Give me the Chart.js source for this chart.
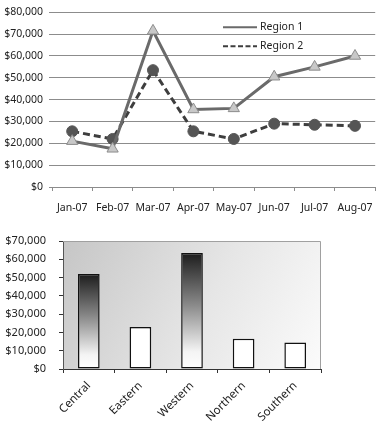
<!DOCTYPE html>
<html><head><meta charset="utf-8">
<script src="https://cdn.jsdelivr.net/npm/chart.js@4.4.0/dist/chart.umd.min.js"></script>
<style>
html,body{margin:0;padding:0;background:#fff;}
#w1{position:absolute;left:0;top:0;width:384px;height:215px;}
#w2{position:absolute;left:0;top:215px;width:384px;height:215px;}
</style></head><body>
<div id="w1"><canvas id="c1"></canvas></div>
<div id="w2"><canvas id="c2"></canvas></div>
<script>
// ---- data ----
const months = ['Jan-07','Feb-07','Mar-07','Apr-07','May-07','Jun-07','Jul-07','Aug-07'];
const region1 = [21000,17500,71500,35500,36000,50500,55000,60000];
const region2 = [25500,22000,53500,25500,22000,29000,28500,28000];
const lineYTicks = [0,10000,20000,30000,40000,50000,60000,70000,80000];

const regions = ['Central','Eastern','Western','Northern','Southern'];
const regionSales = [52000,23000,63500,16500,14500];
const barYTicks = [0,10000,20000,30000,40000,50000,60000,70000];

// ---- styles ----
const FONT = "'Noto Sans', sans-serif";
Chart.defaults.font.family = FONT;
Chart.defaults.color = '#222';
const gradientBarIdx = [0,2];
const money = v => '$' + Number(v).toLocaleString('en-US');

const insideLegend = {
  id:'insideLegend',
  afterDraw(chart){
    const ctx = chart.ctx, ca = chart.chartArea;
    chart.data.datasets.forEach((ds,i)=>{
      const y = ca.top + 15 + i*19;
      const x0 = ca.left + 171;
      ctx.save();
      ctx.strokeStyle = ds.borderColor; ctx.lineWidth = 2;
      ctx.setLineDash(ds.borderDash ? [5,2.5] : []);
      ctx.beginPath(); ctx.moveTo(x0,y); ctx.lineTo(x0+34,y); ctx.stroke();
      ctx.setLineDash([]);
      ctx.fillStyle = '#222'; ctx.font = '10.5px ' + FONT; ctx.textBaseline = 'middle';
      ctx.fillText(ds.label, x0+37, y);
      ctx.restore();
    });
  }
};

new Chart(document.getElementById('c1'), {
  type:'line',
  data:{
    labels: months,
    datasets:[
      {label:'Region 1', data:region1, borderColor:'#6a6a6a', borderWidth:3,
       pointStyle:'triangle', pointRadius:6.5, pointBackgroundColor:'#c8c8c8', pointBorderColor:'#8c8c8c', pointBorderWidth:1, tension:0},
      {label:'Region 2', data:region2, borderColor:'#3e3e3e', borderWidth:3, borderDash:[7,4],
       pointStyle:'circle', pointRadius:5.5, pointBackgroundColor:'#555', pointBorderColor:'#555', pointBorderWidth:1, tension:0}
    ]
  },
  options:{
    responsive:true, maintainAspectRatio:false, animation:false,
    layout:{padding:{top:0,right:1,left:0,bottom:0}},
    plugins:{legend:{display:false}, tooltip:{enabled:false}},
    scales:{
      x:{
        offset:true,
        grid:{offset:true, drawOnChartArea:false, drawTicks:true, tickLength:4, color:'#8c8c8c'},
        border:{display:true, color:'#8c8c8c'},
        ticks:{font:{size:10.5}, padding:11, maxRotation:0, autoSkip:false, color:'#222'},
        afterFit(s){ s.height = 28; }
      },
      y:{
        min:0, max:80000,
        afterBuildTicks(s){ s.ticks = lineYTicks.map(v=>({value:v})); },
        grid:{color:'#8c8c8c', drawTicks:true, tickLength:3, lineWidth:1},
        border:{display:false},
        ticks:{font:{size:10.5}, padding:6, callback:money, color:'#222'},
        afterFit(s){ s.width = 52; }
      }
    }
  },
  plugins:[insideLegend]
});

const plotBg = {
  id:'plotBg',
  beforeDraw(chart){
    const {ctx, chartArea:ca} = chart;
    const g = ctx.createLinearGradient(ca.left, ca.top, ca.right, ca.bottom);
    g.addColorStop(0,'#c6c6c6');
    g.addColorStop(0.55,'#e6e6e6');
    g.addColorStop(1,'#fbfbfb');
    ctx.save(); ctx.fillStyle = g;
    ctx.fillRect(ca.left, ca.top, ca.right-ca.left, ca.bottom-ca.top);
    ctx.restore();
  },
  afterDraw(chart){
    const {ctx, chartArea:ca} = chart;
    ctx.save(); ctx.strokeStyle='#a0a0a0'; ctx.lineWidth=1;
    ctx.beginPath(); ctx.moveTo(ca.left, ca.top+0.5); ctx.lineTo(ca.right-0.5, ca.top+0.5); ctx.lineTo(ca.right-0.5, ca.bottom); ctx.stroke();
    ctx.restore();
  }
};

new Chart(document.getElementById('c2'), {
  type:'bar',
  data:{
    labels: regions,
    datasets:[{
      label:'Sales', data: regionSales,
      borderColor:'#111', borderWidth:1.5, borderSkipped:false,
      barPercentage:0.42, categoryPercentage:1,
      backgroundColor(c){
        const chart = c.chart;
        if (!chart.chartArea || c.type !== 'data' || !gradientBarIdx.includes(c.dataIndex)) return '#ffffff';
        const ys = chart.scales.y;
        const top = ys.getPixelForValue(c.raw), bot = ys.getPixelForValue(0);
        const g = chart.ctx.createLinearGradient(0, top, 0, bot);
        g.addColorStop(0,'#1c1c1c');
        g.addColorStop(0.45,'#8a8a8a');
        g.addColorStop(0.85,'#f4f4f4');
        g.addColorStop(1,'#ffffff');
        return g;
      }
    }]
  },
  options:{
    responsive:true, maintainAspectRatio:false, animation:false,
    layout:{padding:{top:26,right:63,left:0,bottom:0}},
    plugins:{legend:{display:false}, tooltip:{enabled:false}},
    scales:{
      x:{
        grid:{offset:true, drawOnChartArea:false, drawTicks:true, tickLength:4, color:'#333'},
        border:{display:true, color:'#333'},
        ticks:{font:{size:11.5}, padding:6, minRotation:45, maxRotation:45, autoSkip:false, color:'#222'},
        afterFit(s){ s.height = 61; }
      },
      y:{
        min:0, max:70000,
        afterBuildTicks(s){ s.ticks = barYTicks.map(v=>({value:v})); },
        grid:{drawOnChartArea:false, drawTicks:true, tickLength:4, color:'#333'},
        border:{display:true, color:'#555'},
        ticks:{font:{size:11}, padding:13, callback:money, color:'#222'},
        afterFit(s){ s.width = 63; }
      }
    }
  },
  plugins:[plotBg]
});
</script>
</body></html>
